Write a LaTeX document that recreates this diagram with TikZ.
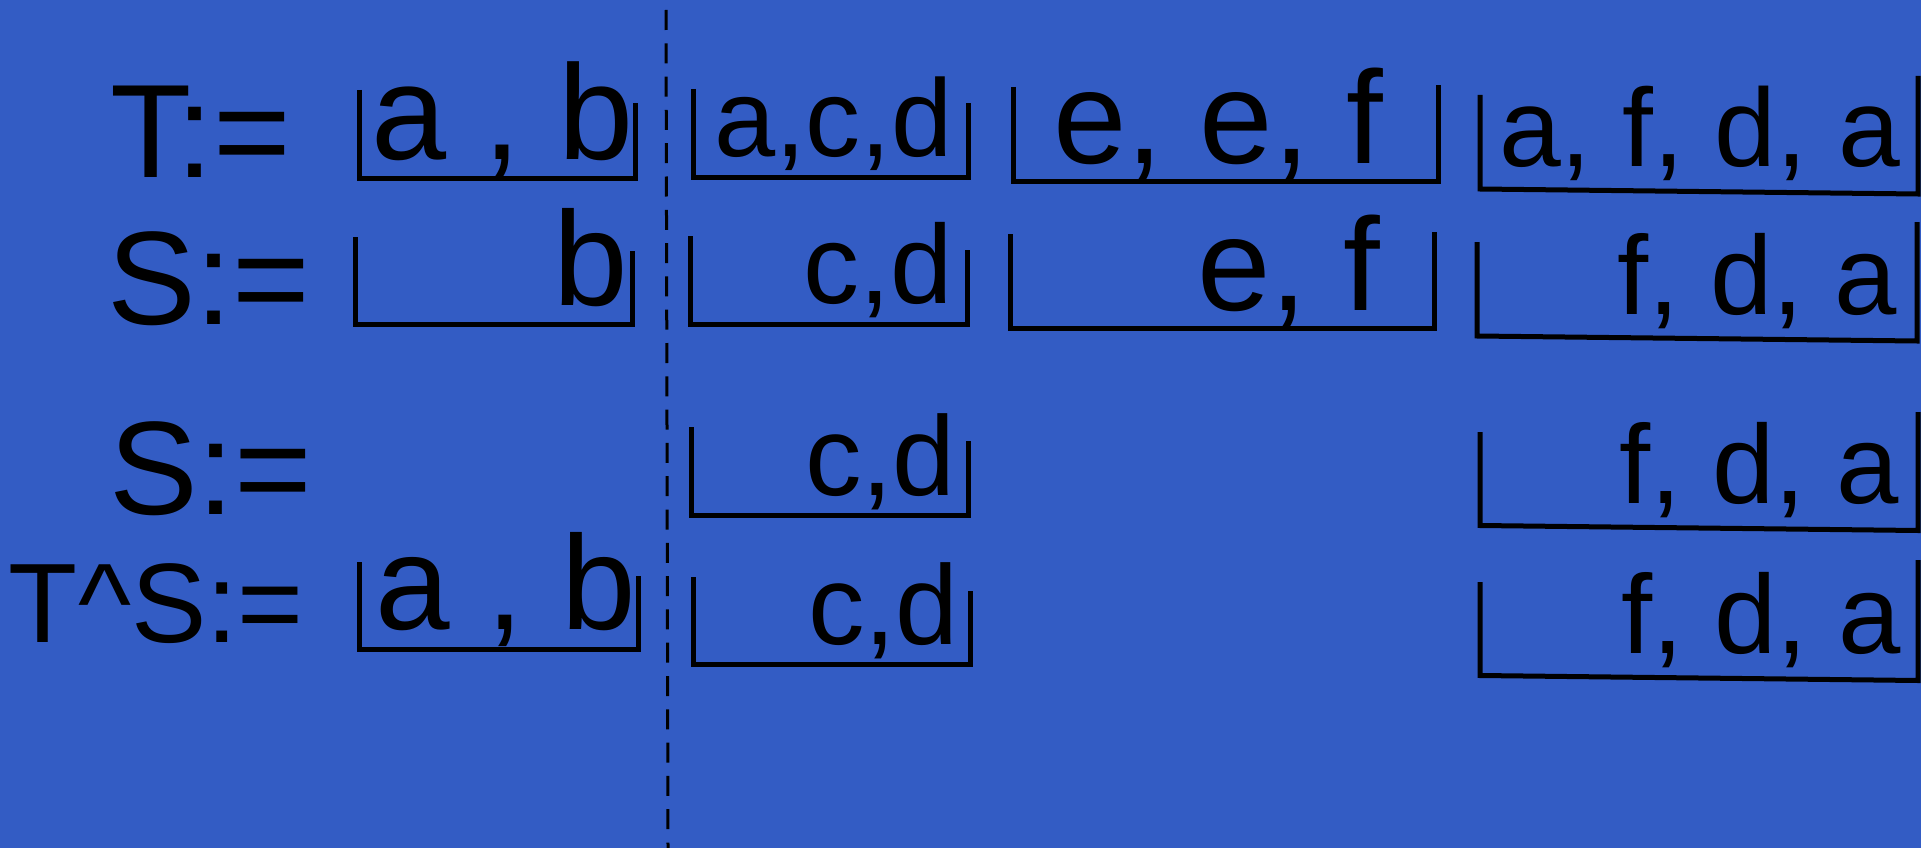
\documentclass[tikz,border=0pt]{standalone}
\usepackage{fontspec}
\setmainfont{Liberation Sans}
\definecolor{bg}{RGB}{51,92,196}
\begin{document}
\begin{tikzpicture}[x=1pt,y=-1pt,
  brk/.style={line width=5pt, line join=miter, line cap=butt, black},
  txt/.style={anchor=base west, inner sep=0pt, outer sep=0pt, text=black, font=\fontsize{#1}{#1}\selectfont},
  sep/.style={line width=3pt, dash pattern=on 20pt off 13.3pt, black}]
\fill[bg] (0,0) rectangle (1921,848);
\useasboundingbox (0,0) rectangle (1921,848);
% separator
\coordinate (sepTop) at (666,10);
\coordinate (sepBot) at (668,848);
\draw[sep] (sepTop) -- (sepBot);
% labels
\node[txt=133] (l1) at (110,177) {T:=};
\node[txt=133] (l2) at (107,324) {S:=};
\node[txt=133] (l3) at (109,514) {S:=};
\node[txt=113] (l4) at (9,642) {T\textasciicircum S:=};
% row 1
\node[txt=135] (t1a) at (371,159) {a , b};
\node[txt=110] (t1b) at (714,156) {a,c,d};
\node[txt=132] (t1c) at (1053,163) {e, e, f};
\node[txt=111] (t1d) at (1499,166) {a, f, d, a};
\draw[brk] (359,90) -- (359,178) -- (635,178) -- (635,103);
\draw[brk] (693,89) -- (693,177) -- (968,177) -- (968,103);
\draw[brk] (1013,87) -- (1013,181.5) -- (1438,181.5) -- (1438,85);
\draw[brk] (1480,95) -- (1480,189) -- (1918,194) -- (1918,76);
% row 2
\node[txt=134] (t2a) at (553,305) {b};
\node[txt=112] (t2b) at (803,303) {c,d};
\node[txt=132] (t2c) at (1197,310) {e, f};
\node[txt=112] (t2d) at (1617,314) {f, d, a};
\draw[brk] (355,237) -- (355,324) -- (632,324) -- (632,251);
\draw[brk] (690,236) -- (690,324) -- (967,324) -- (967,250);
\draw[brk] (1010,234) -- (1010,328) -- (1434,328) -- (1434,232);
\draw[brk] (1477,242) -- (1477,336) -- (1917,341) -- (1917,222);
% row 3
\node[txt=113] (t3b) at (805,495) {c,d};
\node[txt=112] (t3d) at (1619,503) {f, d, a};
\draw[brk] (691,427) -- (691,515) -- (968,515) -- (968,441);
\draw[brk] (1480,432) -- (1480,525.5) -- (1918,530.5) -- (1918,412);
% row 4
\node[txt=134] (t4a) at (375,629) {a , b};
\node[txt=113] (t4b) at (808,644) {c,d};
\node[txt=112] (t4d) at (1621,653) {f, d, a};
\draw[brk] (359,562) -- (359,649) -- (638,649) -- (638,576);
\draw[brk] (693,577) -- (693,664) -- (970,664) -- (970,591);
\draw[brk] (1480,582) -- (1480,675.5) -- (1918,680.5) -- (1918,560);
\end{tikzpicture}
\end{document}
